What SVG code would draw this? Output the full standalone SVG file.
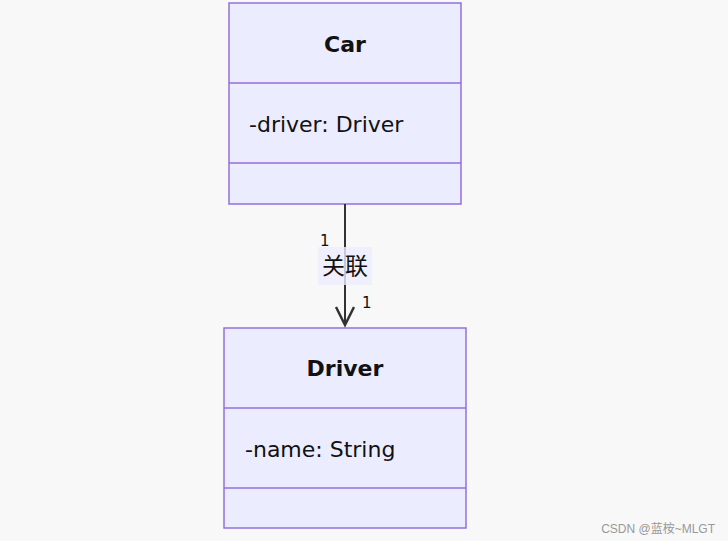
<svg xmlns="http://www.w3.org/2000/svg" width="728" height="541" viewBox="0 0 728 541">
<style>
.box{fill:#ECECFF;stroke:#9370DB;stroke-width:1.5}
.t{font-family:"DejaVu Sans","Noto Sans CJK SC",sans-serif;fill:#111}
</style>
<defs><marker id="ah" markerWidth="24" markerHeight="24" refX="20" refY="10" orient="auto" markerUnits="userSpaceOnUse"><path d="M2,1 L20,10 L2,19" fill="none" stroke="#333" stroke-width="2.5"/></marker></defs>
<rect width="728" height="541" fill="#f8f8f8"/>
<g id="car">
<rect class="box" x="229" y="3" width="232" height="201"/>
<line class="box" x1="229" y1="83" x2="461" y2="83"/>
<line class="box" x1="229" y1="163" x2="461" y2="163"/>
<text class="t" x="345" y="52" font-size="22" font-weight="bold" text-anchor="middle">Car</text>
<text class="t" x="249" y="132" font-size="22">-driver: Driver</text>
</g>
<g id="driver">
<rect class="box" x="224" y="328" width="242" height="200"/>
<line class="box" x1="224" y1="408" x2="466" y2="408"/>
<line class="box" x1="224" y1="488" x2="466" y2="488"/>
<text class="t" x="345" y="376" font-size="22" font-weight="bold" text-anchor="middle">Driver</text>
<text class="t" x="245" y="457" font-size="22">-name: String</text>
</g>
<g id="connectors">
<line x1="345" y1="204" x2="345" y2="325" stroke="#333" stroke-width="2" marker-end="url(#ah)"/>
<rect x="318" y="247" width="54" height="38" fill="#ECECFF" opacity="0.8"/>
<text class="t" x="345" y="274" font-size="23" text-anchor="middle">关联</text>
<text class="t" x="320" y="246" font-size="15">1</text>
<text class="t" x="362" y="308" font-size="15">1</text>
</g>
<text x="715" y="533" font-size="12" text-anchor="end" fill="#999" font-family="Liberation Sans,'Noto Sans CJK SC',sans-serif">CSDN @蓝桉~MLGT</text>
</svg>
